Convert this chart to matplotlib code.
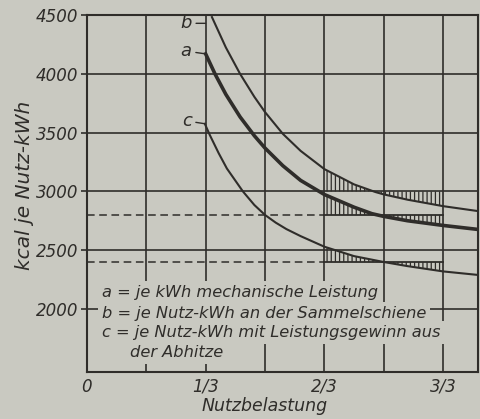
import numpy as np
import matplotlib.pyplot as plt

# Werte: kcal je Nutz-kWh ueber der Nutzbelastung
b_x = np.array([0.351, 0.39, 0.43, 0.47, 0.5, 0.55, 0.6, 2/3, 0.75, 0.81, 5/6, 0.9, 1.0, 1.098])
b_v = np.array([4483, 4225, 4000, 3805, 3675, 3490, 3345, 3190, 3060, 2995, 2975, 2930, 2875, 2833])

a_x = np.array([1/3, 0.36, 0.39, 0.43, 0.47, 0.5, 0.55, 0.6, 2/3,
                0.75, 0.8, 5/6, 0.9, 1.0, 1.098])
a_v = np.array([4170, 3997, 3826, 3634, 3474, 3369, 3219, 3094, 2974,
                2866, 2811, 2788, 2751, 2711, 2677])

c_x = np.array([0.331, 0.345, 0.37, 0.393, 0.438, 0.47, 0.5, 0.53, 0.56, 0.6, 2/3,
                0.75, 5/6, 0.9, 1.0, 1.098])
c_v = np.array([3576, 3480, 3325, 3195, 3000, 2885, 2800, 2735, 2680, 2620, 2530,
                2450, 2400, 2365, 2320, 2290])

# Bezugswerte der schraffierten Flaechen
b_level = 3000
a_level = 2800
c_level = 2400

y_ticks = [2000, 2500, 3000, 3500, 4000, 4500]
x_ticks = [0, 1/3, 2/3, 1]
x_ticklabels = ['0', '1/3', '2/3', '3/3']
x_grid = [1/6, 1/2, 5/6]

legend_lines = ['a = je kWh mechanische Leistung',
                'b = je Nutz-kWh an der Sammelschiene',
                'c = je Nutz-kWh mit Leistungsgewinn aus',
                'der Abhitze']

bg = '#c9c9c1'
ink = '#2f2d2a'

plt.rcParams.update({
    'font.family': 'DejaVu Sans',
    'font.style': 'italic',
    'hatch.linewidth': 0.9,
})

fig = plt.figure(figsize=(4.8, 4.19), dpi=100, facecolor=bg)
ax = fig.add_axes([0.181, 0.112, 0.815, 0.852], facecolor=bg)

ax.set_xlim(0, 1.098)
ax.set_ylim(1464, 4500)

# Gitter
ax.set_xticks(x_ticks)
ax.set_xticklabels(x_ticklabels)
ax.set_xticks(x_grid, minor=True)
ax.set_yticks(y_ticks)
ax.grid(True, which='both', color=ink, linewidth=1.2)
ax.set_axisbelow(True)
ax.tick_params(axis='x', which='both', length=0, pad=4, labelsize=12, colors=ink)
ax.tick_params(axis='y', length=4, width=1.2, pad=2, labelsize=12, colors=ink)
for s in ax.spines.values():
    s.set_color(ink)
    s.set_linewidth(1.5)

# gestrichelte Bezugslinien, rechts ausgezogen
for lev in (a_level, c_level):
    ax.plot([0, 2/3], [lev, lev], color=ink, lw=1.1, ls=(0, (5, 3)), zorder=2)
    ax.plot([2/3, 1], [lev, lev], color=ink, lw=1.3, zorder=2)

# Schraffur zwischen Kurve und Bezugslinie
for xs, vs, lev in ((b_x, b_v, b_level), (a_x, a_v, a_level), (c_x, c_v, c_level)):
    sel = (xs >= 2/3 - 1e-9) & (xs <= 1 + 1e-9)
    ax.fill_between(xs, vs, lev, where=sel, interpolate=True, facecolor='none',
                    edgecolor=ink, hatch='||||', linewidth=0, zorder=2)

# Kurven
ax.plot(b_x, b_v, color=ink, lw=1.5, zorder=3)
ax.plot(a_x, a_v, color=ink, lw=2.6, zorder=3)
ax.plot(c_x, c_v, color=ink, lw=1.5, zorder=3)

# Kurvenbezeichnungen
lead = dict(arrowstyle='-', color=ink, lw=1.0, shrinkA=1, shrinkB=0)
ax.annotate('b', xy=(1/3, 4430), xytext=(-14, 0), textcoords='offset points',
            ha='center', va='center', fontsize=13, color=ink, arrowprops=lead)
ax.annotate('a', xy=(a_x[0], a_v[0]), xytext=(-14, 2), textcoords='offset points',
            ha='center', va='center', fontsize=13, color=ink, arrowprops=lead)
ax.annotate('c', xy=(c_x[0], c_v[0]), xytext=(-13, 2), textcoords='offset points',
            ha='center', va='center', fontsize=13, color=ink, arrowprops=lead)

# Legende im Diagramm
box = dict(boxstyle='square,pad=0.25', facecolor=bg, edgecolor='none')
text_y = [0.224, 0.165, 0.112, 0.056]
text_x = [0.038, 0.038, 0.038, 0.11]
for tx, ty, line in zip(text_x, text_y, legend_lines):
    ax.text(tx, ty, line, transform=ax.transAxes, ha='left', va='center',
            fontsize=11.7, color=ink, bbox=box, zorder=4)

ax.set_xlabel('Nutzbelastung', fontsize=12.5, color=ink)
ax.xaxis.set_label_coords(0.455, -0.07)
ax.set_ylabel('kcal je Nutz-kWh', fontsize=14.5, color=ink)
ax.yaxis.set_label_coords(-0.136, 0.524)

fig.savefig('out.png', dpi=100, facecolor=bg)
